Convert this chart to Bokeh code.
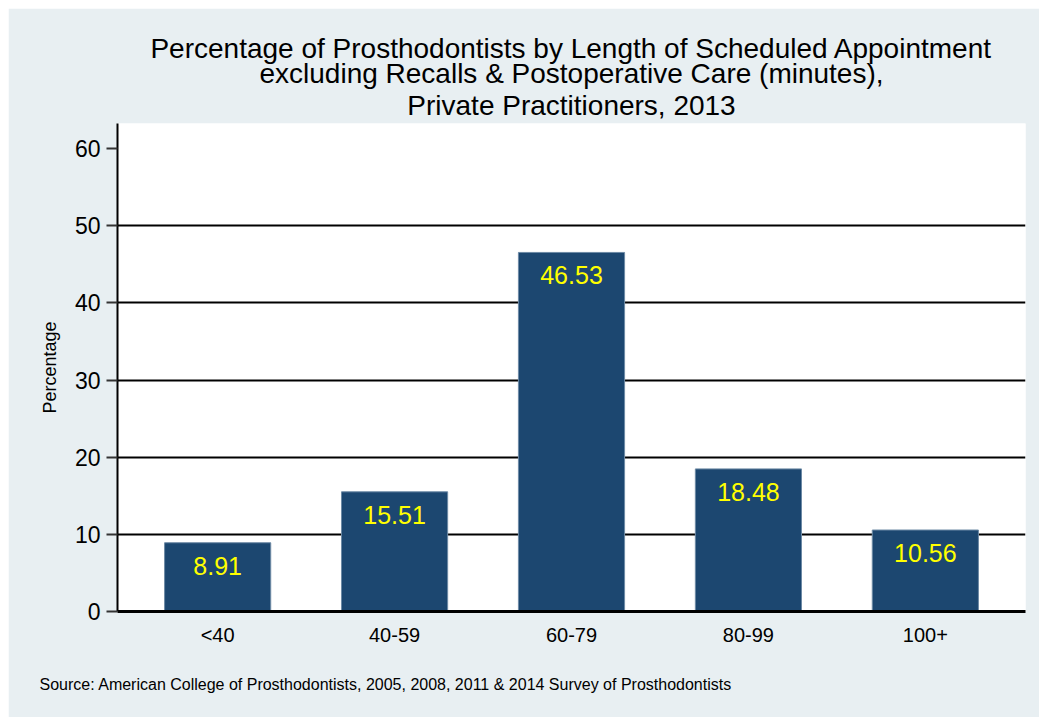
from bokeh.plotting import figure
from bokeh.models import FactorRange, Range1d, FixedTicker, Title, ColumnDataSource
from bokeh.core.properties import value
from bokeh.embed import file_html
from bokeh.resources import INLINE

categories = ["<40", "40-59", "60-79", "80-99", "100+"]
values = [8.91, 15.51, 46.53, 18.48, 10.56]
y_ticks = [0, 10, 20, 30, 40, 50, 60]
grid_ticks = [10, 20, 30, 40, 50]
title_lines = [
    "Percentage of Prosthodontists by Length of Scheduled Appointment",
    "excluding Recalls & Postoperative Care (minutes),",
    "Private Practitioners, 2013",
]
source_text = "Source: American College of Prosthodontists, 2005, 2008, 2011 & 2014 Survey of Prosthodontists"

FONT = "Liberation Sans"
BG = "#e8eff2"
BAR = "#1c4770"

src = ColumnDataSource(dict(cat=categories, val=values, lab=[f"{v:.2f}" for v in values]))

p = figure(
    width=1031, height=709,
    x_range=FactorRange(factors=categories, range_padding=0.0264),
    y_range=Range1d(0, 63.24),
    output_backend="svg", toolbar_location=None,
    min_border_left=109, min_border_right=14, min_border_top=115, min_border_bottom=106,
)
p.styles = {"margin-left": "8px", "margin-top": "8px"}
p.background_fill_color = "white"
p.border_fill_color = BG
p.outline_line_color = None

p.vbar(x="cat", top="val", width=0.6, source=src, fill_color=BAR,
       line_color="#6d8aa5", line_width=1)
p.text(x="cat", y="val", text="lab", source=src, text_color="#ffff00",
       text_font=value(FONT), text_font_size="25px", text_align="center",
       text_baseline="middle", y_offset=23)

# grid
p.xgrid.grid_line_color = None
p.ygrid.ticker = FixedTicker(ticks=grid_ticks)
p.ygrid.grid_line_color = "black"
p.ygrid.grid_line_width = 2

# y axis
p.yaxis.ticker = FixedTicker(ticks=y_ticks)
p.yaxis.axis_line_color = "black"
p.yaxis.axis_line_width = 2
p.yaxis.major_tick_out = 11
p.yaxis.major_tick_in = 0
p.yaxis.major_tick_line_color = "#333333"
p.yaxis.major_tick_line_width = 2
p.yaxis.minor_tick_line_color = None
p.yaxis.major_label_text_font = FONT
p.yaxis.major_label_text_font_size = "23px"
p.yaxis.major_label_text_color = "black"
p.yaxis.major_label_standoff = 6
p.yaxis.axis_label = "Percentage"
p.yaxis.axis_label_text_font = FONT
p.yaxis.axis_label_text_font_size = "18px"
p.yaxis.axis_label_text_font_style = "normal"
p.yaxis.axis_label_text_color = "black"
p.yaxis.axis_label_standoff = 12

# x axis
p.xaxis.axis_line_color = "black"
p.xaxis.axis_line_width = 3
p.xaxis.major_tick_line_color = None
p.xaxis.major_tick_out = 0
p.xaxis.major_tick_in = 0
p.xaxis.major_label_text_font = FONT
p.xaxis.major_label_text_font_size = "20px"
p.xaxis.major_label_text_color = "black"
p.xaxis.major_label_standoff = 12

# title: lines added bottom-up so the first line ends on top
title_standoffs = [5, -7, -8]
for t, so in zip(reversed(title_lines), title_standoffs):
    p.add_layout(Title(text=t, align="center", text_font=FONT, text_font_size="28px",
                       text_font_style="normal", text_color="black",
                       standoff=so, offset=0), "above")

p.add_layout(Title(text=source_text, align="left", text_font=FONT, text_font_size="16px",
                   text_font_style="normal", text_color="black",
                   standoff=50, offset=-78), "below")

open("out.html", "w").write(file_html(p, INLINE))
